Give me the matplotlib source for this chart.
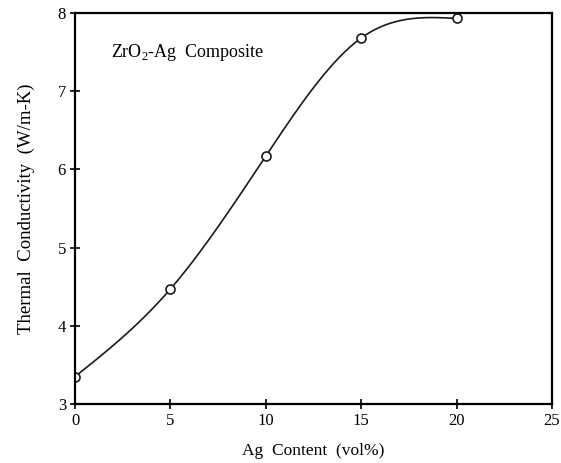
import numpy as np
import matplotlib
matplotlib.use("Agg")
import matplotlib.pyplot as plt

ag_content = [0, 5, 10, 15, 20]           # vol%
conductivity = [3.35, 4.47, 6.17, 7.68, 7.93]  # W/m-K
x_ticks = [0, 5, 10, 15, 20, 25]
y_ticks = [3, 4, 5, 6, 7, 8]


def natural_spline(x, y, xs):
    # natural cubic spline through the measured points (the smooth guide line)
    x = np.asarray(x, float)
    y = np.asarray(y, float)
    n = len(x)
    h = np.diff(x)
    A = np.zeros((n, n))
    b = np.zeros(n)
    A[0, 0] = A[-1, -1] = 1
    for i in range(1, n - 1):
        A[i, i - 1] = h[i - 1]
        A[i, i] = 2 * (h[i - 1] + h[i])
        A[i, i + 1] = h[i]
        b[i] = 3 * ((y[i + 1] - y[i]) / h[i] - (y[i] - y[i - 1]) / h[i - 1])
    c = np.linalg.solve(A, b)
    out = np.empty_like(xs)
    for k, xv in enumerate(xs):
        i = min(np.searchsorted(x, xv, side='right') - 1, n - 2)
        dx = xv - x[i]
        bi = (y[i + 1] - y[i]) / h[i] - h[i] * (2 * c[i] + c[i + 1]) / 3
        di = (c[i + 1] - c[i]) / (3 * h[i])
        out[k] = y[i] + bi * dx + c[i] * dx ** 2 + di * dx ** 3
    return out


plt.rcParams['font.family'] = ['Liberation Serif', 'DejaVu Serif']
plt.rcParams['mathtext.fontset'] = 'custom'
plt.rcParams['mathtext.rm'] = 'Liberation Serif'

fig = plt.figure(figsize=(5.61, 4.63), dpi=100)
ax = fig.add_axes([0.1337, 0.1274, 0.8503, 0.8446])

xs = np.linspace(ag_content[0], ag_content[-1], 300)
ax.plot(xs, natural_spline(ag_content, conductivity, xs), color='#1a1a1a', lw=1.2)
ax.plot(ag_content, conductivity, 'o', ms=6.5, mfc='white', mec='#1a1a1a', mew=1.2)

ax.set_xlim(0, 25)
ax.set_ylim(3, 8)
ax.set_xticks(x_ticks)
ax.set_yticks(y_ticks)
ax.tick_params(direction='inout', length=7, width=1.2, labelsize=12, pad=3)
for s in ax.spines.values():
    s.set_linewidth(1.6)

ax.set_xlabel('Ag  Content  (vol%)', fontsize=12.5, labelpad=10)
ax.set_ylabel('Thermal  Conductivity  (W/m-K)', fontsize=13.5, labelpad=16)
ax.text(1.9, 7.5, r'ZrO$_\mathrm{2}$-Ag  Composite', fontsize=13, va='center', ha='left')

fig.savefig('out.png', dpi=100)
